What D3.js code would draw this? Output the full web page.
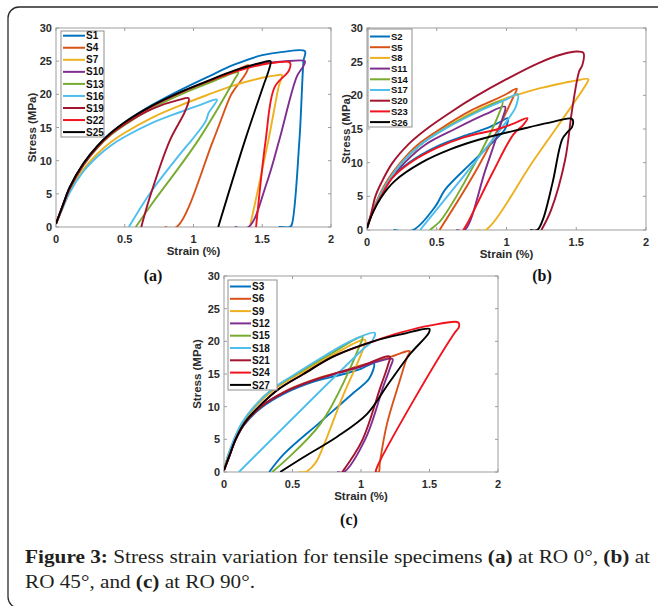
<!DOCTYPE html>
<html>
<head>
<meta charset="utf-8">
<script src="https://cdn.jsdelivr.net/npm/d3@7"></script>
<style>
  body { margin: 0; background: #fff; }
  svg { display: block; }
  .tick-label { font-family: "Liberation Sans", Arial, sans-serif; font-weight: bold; font-size: 11px; fill: #2b2b2b; }
  .axis-title { font-family: "Liberation Sans", Arial, sans-serif; font-weight: bold; font-size: 11.5px; fill: #2b2b2b; }
  .legend-label { font-family: "Liberation Sans", Arial, sans-serif; font-weight: bold; fill: #111; }
  .panel-tag { font-family: "Liberation Serif", "Times New Roman", serif; font-weight: bold; font-size: 16px; fill: #111; }
  .caption { font-family: "Liberation Serif", "Times New Roman", serif; font-size: 18.5px; fill: #231f20; }
</style>
</head>
<body>
<svg id="figure" width="658" height="606"></svg>
<script>
// ticks shared by all three panels
const strainTicks = [0, 0.5, 1, 1.5, 2];
const stressTicks = [0, 5, 10, 15, 20, 25, 30];

// (a) RO 0 deg  -- each curve: loading branch then unloading branch, [strain %, stress MPa]
const namesA = ["S1", "S4", "S7", "S10", "S13", "S16", "S19", "S22", "S25"];
const curvesA = [
    [[0,0.5],[0.05,3.3],[0.1,6],[0.2,9.6],[0.3,12.2],[0.4,14.2],[0.5,15.8],[0.7,18.4],[0.9,20.6],[1.1,22.6],[1.3,24.5],[1.5,25.9],[1.65,26.4],[1.81,26.5],
     [1.80,25],[1.77,13],[1.714,0.3],[1.70,0],[1.62,0]],
    [[0,0.5],[0.05,3.2],[0.1,5.9],[0.2,9.5],[0.3,12.1],[0.4,14.1],[0.5,15.7],[0.7,18.2],[0.9,20.2],[1.1,21.9],[1.3,23.5],[1.40,24.4],
     [1.385,23.3],[1.30,20.8],[1.27,19.8],[1.144,13.1],[0.877,0],[0.79,0]],
    [[0,0.5],[0.05,3.0],[0.1,5.4],[0.2,8.7],[0.3,11.0],[0.4,12.8],[0.5,14.2],[0.7,16.5],[0.9,18.3],[1.1,19.9],[1.3,21.4],[1.5,22.5],[1.6,22.85],[1.643,22.9],
     [1.62,21.2],[1.545,13.1],[1.41,0]],
    [[0,0.5],[0.05,3.2],[0.1,5.9],[0.2,9.5],[0.3,12.1],[0.4,14.1],[0.5,15.7],[0.7,18.2],[0.9,20.2],[1.1,21.9],[1.3,23.5],[1.5,24.6],[1.65,24.95],[1.81,25.0],
     [1.80,24.3],[1.752,22.7],[1.624,13.1],[1.532,6.6],[1.40,0],[1.30,0]],
    [[0,0.5],[0.05,3.1],[0.1,5.7],[0.2,9.3],[0.3,11.9],[0.4,13.9],[0.5,15.4],[0.7,17.9],[0.9,19.9],[1.1,21.6],[1.325,23.3],
     [1.30,22.3],[1.035,13.1],[0.684,3.1],[0.58,0]],
    [[0,0.5],[0.05,2.9],[0.1,5.2],[0.2,8.4],[0.3,10.6],[0.4,12.3],[0.5,13.6],[0.7,15.7],[0.9,17.3],[1.05,18.4],[1.17,19.2],
     [1.11,17.2],[1.09,16.0],[0.987,13.1],[0.926,11.6],[0.684,5.1],[0.53,0]],
    [[0,0.5],[0.05,3.2],[0.1,5.8],[0.2,9.4],[0.3,12.0],[0.4,14.0],[0.5,15.5],[0.7,17.8],[0.9,19.2],[0.965,19.4],
     [0.94,17.5],[0.829,13.1],[0.684,4.6],[0.62,0]],
    [[0,0.5],[0.05,3.2],[0.1,5.9],[0.2,9.5],[0.3,12.1],[0.4,14.1],[0.5,15.7],[0.7,18.2],[0.9,20.2],[1.1,21.9],[1.3,23.4],[1.5,24.5],[1.6,24.8],[1.70,24.8],
     [1.695,23.6],[1.59,21.1],[1.525,13.1],[1.455,0]],
    [[0,0.5],[0.05,3.3],[0.1,6],[0.2,9.6],[0.3,12.2],[0.4,14.2],[0.5,15.8],[0.7,18.3],[0.9,20.3],[1.1,22.0],[1.3,23.6],[1.5,24.8],[1.56,25.0],
     [1.55,23.8],[1.51,21.4],[1.375,13.1],[1.18,0]]
];

// (b) RO 45 deg
const namesB = ["S2", "S5", "S8", "S11", "S14", "S17", "S20", "S23", "S26"];
const curvesB = [
    [[0,0.3],[0.04,2.7],[0.1,5],[0.18,7.8],[0.3,10],[0.5,12.4],[0.7,14.0],[0.87,15.2],[0.95,16.0],[1.01,16.6],
     [0.99,15],[0.967,14.4],[0.75,10],[0.56,6],[0.49,3.5],[0.33,0],[0.19,0]],
    [[0,0.3],[0.04,2.8],[0.084,5],[0.15,7.5],[0.24,10],[0.36,12.6],[0.525,15],[0.75,17.8],[0.9,19.2],[1.0,20.2],[1.074,21.0],
     [1.05,19.8],[0.8,9.5],[0.52,0]],
    [[0,0.3],[0.04,2.7],[0.09,5],[0.16,7.5],[0.25,10],[0.38,12.6],[0.55,15],[0.8,17.9],[1.0,19.6],[1.11,20.3],[1.25,21.1],[1.4,21.8],[1.5,22.2],[1.587,22.4],
     [1.57,21.6],[1.2,10.5],[0.85,0],[0.79,0]],
    [[0,0.3],[0.04,2.6],[0.095,5],[0.17,7.5],[0.27,10],[0.42,12.7],[0.63,15],[0.85,17.2],[0.99,18.3],
     [0.97,16.5],[0.85,9],[0.70,0],[0.64,0]],
    [[0,0.3],[0.04,2.7],[0.09,5],[0.16,7.5],[0.25,10],[0.38,12.6],[0.55,15],[0.8,17.7],[0.97,19.1],
     [0.94,17],[0.75,9],[0.55,2],[0.52,1.2],[0.45,0]],
    [[0,0.3],[0.04,2.7],[0.09,5],[0.16,7.5],[0.25,10],[0.38,12.6],[0.55,14.9],[0.8,17.6],[1.0,19.4],[1.08,20.2],
     [1.07,18.5],[1.03,17],[0.38,0]],
    [[0,0.3],[0.03,2.5],[0.06,5],[0.1,6.9],[0.18,9.9],[0.3,12.8],[0.42,14.9],[0.6,17.5],[0.776,19.8],[1.0,22.4],[1.23,24.8],[1.4,26.1],[1.5,26.5],[1.551,26.3],
     [1.544,24.5],[1.52,23.5],[1.47,17.8],[1.42,10.4],[1.32,3],[1.25,0]],
    [[0,0.3],[0.04,2.6],[0.1,5],[0.18,7.7],[0.31,10],[0.5,12.2],[0.7,13.8],[0.94,15],[1.05,15.8],[1.15,16.6],
     [1.12,15.6],[1.05,14.2],[0.9,8.5],[0.72,1],[0.69,0]],
    [[0,0.3],[0.04,2.5],[0.1,4.8],[0.2,7.3],[0.39,10],[0.6,12],[0.8,13.4],[1.11,15],[1.3,15.9],[1.47,16.5],
     [1.47,15.3],[1.44,14.6],[1.40,13.5],[1.33,7],[1.26,1.5],[1.22,0],[1.17,0]]
];

// (c) RO 90 deg
const namesC = ["S3", "S6", "S9", "S12", "S15", "S18", "S21", "S24", "S27"];
const curvesC = [
    [[0,0.3],[0.04,2.5],[0.085,5],[0.15,7.3],[0.27,9.8],[0.45,12.1],[0.65,13.8],[0.875,15],[1.0,15.8],[1.094,16.6],
     [1.06,14.3],[0.95,12.2],[0.70,7.6],[0.44,2.8],[0.33,0]],
    [[0,0.3],[0.04,2.5],[0.085,5],[0.15,7.4],[0.27,10],[0.45,12.4],[0.65,14.1],[0.83,15.2],[1.0,16.3],[1.2,17.5],[1.356,18.5],
     [1.337,17.6],[1.276,13.5],[1.19,7.4],[1.137,1.3],[1.13,0],[1.106,0]],
    [[0,0.3],[0.03,2.5],[0.08,5],[0.14,7.5],[0.23,10],[0.37,12.7],[0.55,15],[0.8,18],[1.03,20.2],
     [1.01,18.5],[0.875,12],[0.68,1.8],[0.644,0.8],[0.595,0],[0.547,0]],
    [[0,0.3],[0.04,2.5],[0.085,5],[0.15,7.4],[0.27,10],[0.45,12.3],[0.65,14.0],[0.83,15.1],[1.0,16.1],[1.23,17.3],
     [1.215,16.1],[1.166,13.3],[1.033,5.1],[0.875,0],[0.826,0]],
    [[0,0.3],[0.03,2.5],[0.075,5],[0.135,7.5],[0.22,10],[0.36,12.8],[0.53,15],[0.78,18.1],[1.01,20.7],
     [0.99,19.3],[0.705,7.4],[0.352,0]],
    [[0,0.3],[0.03,2.5],[0.073,5],[0.13,7.5],[0.22,10],[0.36,12.8],[0.52,15],[0.72,17.6],[0.92,20],[1.10,21.3],
     [1.08,20],[1.02,18.9],[0.109,0]],
    [[0,0.3],[0.04,2.5],[0.085,5],[0.15,7.4],[0.27,10],[0.45,12.3],[0.65,14.0],[0.83,15.2],[1.0,16.2],[1.21,17.7],
     [1.196,16.3],[1.142,13],[1.008,4.8],[0.863,0]],
    [[0,0.3],[0.04,2.5],[0.085,5],[0.15,7.5],[0.255,10],[0.4,12.7],[0.58,15],[0.8,17.7],[1.09,20],[1.3,21.4],[1.5,22.4],[1.71,22.9],
     [1.715,22.2],[1.68,21.2],[1.385,11],[1.118,0.8],[1.106,0]],
    [[0,0.3],[0.04,2.5],[0.085,5],[0.15,7.5],[0.255,10],[0.4,12.7],[0.58,15],[0.8,17.7],[1.09,20],[1.3,21.1],[1.5,21.9],
     [1.495,21.3],[1.36,18.1],[1.2,13.5],[1.045,8.9],[0.826,5.4],[0.583,2.3],[0.41,0]]
];

// MATLAB line colour order, then red and black for the last two specimens
const palette = ["#0072BD", "#D95319", "#EDB120", "#7E2F8E", "#77AC30", "#4DBEEE", "#A2142F", "#F0141E", "#000000"];

const svg = d3.select("#figure");

// figure frame (rounded, runs off the right edge)
svg.append("rect")
    .attr("x", 8).attr("y", 7)
    .attr("width", 700).attr("height", 601)
    .attr("rx", 11)
    .attr("fill", "none")
    .attr("stroke", "#2a2a2a")
    .attr("stroke-width", 1.3);

const panels = [
    { names: namesA, curves: curvesA, id: "a", left: 56, top: 28, right: 331, bottom: 227,
      legend: { x: 61, y: 31, w: 43, h: 106, first: 4.7, row: 12.05, len: 22, font: 10 },
      yLabelX: 32, tag: "(a)", tagX: 153, tagY: 281 },
    { names: namesB, curves: curvesB, id: "b", left: 367, top: 28, right: 646, bottom: 230,
      legend: { x: 368, y: 29, w: 44, h: 98, first: 7.5, row: 10.7, len: 20, font: 9.5 },
      yLabelX: 346, tag: "(b)", tagX: 542, tagY: 281 },
    { names: namesC, curves: curvesC, id: "c", left: 224, top: 276, right: 498, bottom: 472,
      legend: { x: 228, y: 280, w: 49, h: 110, first: 6.5, row: 12.3, len: 21, font: 10 },
      yLabelX: 197, tag: "(c)", tagX: 349, tagY: 525 }
];

panels.forEach(p => drawPanel(p));

function drawPanel(p) {
    let x = d3.scaleLinear().domain([0, 2]).range([p.left, p.right]);
    let y = d3.scaleLinear().domain([0, 30]).range([p.bottom, p.top]);
    let g = svg.append("g").attr("class", "panel-" + p.id);

    g.append("clipPath").attr("id", "clip-" + p.id)
        .append("rect")
        .attr("x", p.left).attr("y", p.top)
        .attr("width", p.right - p.left).attr("height", p.bottom - p.top);

    // axes box with inward ticks on all four sides
    let axisColor = "#9d9d9d";
    g.append("rect")
        .attr("x", p.left).attr("y", p.top)
        .attr("width", p.right - p.left).attr("height", p.bottom - p.top)
        .attr("fill", "#fff").attr("stroke", axisColor).attr("stroke-width", 1);

    let tk = 3;
    strainTicks.forEach(t => {
        g.append("line").attr("x1", x(t)).attr("x2", x(t)).attr("y1", p.bottom).attr("y2", p.bottom - tk).attr("stroke", axisColor);
        g.append("line").attr("x1", x(t)).attr("x2", x(t)).attr("y1", p.top).attr("y2", p.top + tk).attr("stroke", axisColor);
        g.append("text").attr("class", "tick-label")
            .attr("x", x(t)).attr("y", p.bottom + 15.5)
            .attr("text-anchor", "middle")
            .text(t);
    });
    stressTicks.forEach(t => {
        g.append("line").attr("x1", p.left).attr("x2", p.left + tk).attr("y1", y(t)).attr("y2", y(t)).attr("stroke", axisColor);
        g.append("line").attr("x1", p.right).attr("x2", p.right - tk).attr("y1", y(t)).attr("y2", y(t)).attr("stroke", axisColor);
        g.append("text").attr("class", "tick-label")
            .attr("x", p.left - 4).attr("y", y(t) + 4)
            .attr("text-anchor", "end")
            .text(t);
    });

    g.append("text").attr("class", "axis-title")
        .attr("x", (p.left + p.right) / 2).attr("y", p.bottom + 28)
        .attr("text-anchor", "middle")
        .text("Strain (%)");
    g.append("text").attr("class", "axis-title")
        .attr("transform", "translate(" + (p.yLabelX + 4) + "," + ((p.top + p.bottom) / 2) + ") rotate(-90)")
        .attr("text-anchor", "middle")
        .text("Stress (MPa)");

    // curves
    let line = d3.line()
        .x(d => x(d[0]))
        .y(d => y(d[1]))
        .curve(d3.curveCatmullRom.alpha(0.5));

    g.append("g").attr("clip-path", "url(#clip-" + p.id + ")")
        .selectAll("path")
        .data(p.curves)
        .enter().append("path")
        .attr("d", d => line(d))
        .attr("fill", "none")
        .attr("stroke", (d, i) => palette[i])
        .attr("stroke-width", 1.9)
        .attr("stroke-linejoin", "round");

    // legend
    let L = p.legend;
    let lg = g.append("g");
    lg.append("rect")
        .attr("x", L.x).attr("y", L.y).attr("width", L.w).attr("height", L.h)
        .attr("fill", "#fff").attr("stroke", "#8f8f8f").attr("stroke-width", 1);
    let rows = lg.selectAll(".legend-row").data(p.names).enter().append("g")
        .attr("class", "legend-row")
        .attr("transform", (d, i) => "translate(" + (L.x + 2) + "," + (L.y + L.first + i * L.row) + ")");
    rows.append("line")
        .attr("x1", 0).attr("x2", L.len)
        .attr("stroke", (d, i) => palette[i]).attr("stroke-width", 2);
    rows.append("text").attr("class", "legend-label")
        .attr("x", L.len + 1).attr("y", L.font * 0.36)
        .style("font-size", L.font + "px")
        .text(d => d);

    svg.append("text").attr("class", "panel-tag")
        .attr("x", p.tagX).attr("y", p.tagY)
        .attr("text-anchor", "middle")
        .text(p.tag);
}

// caption
let cap1 = svg.append("text").attr("class", "caption").attr("x", 25).attr("y", 563)
    .attr("textLength", 625).attr("lengthAdjust", "spacingAndGlyphs");
cap1.append("tspan").attr("font-weight", "bold").text("Figure 3:");
cap1.append("tspan").text(" Stress strain variation for tensile specimens ");
cap1.append("tspan").attr("font-weight", "bold").text("(a)");
cap1.append("tspan").text(" at RO 0°, ");
cap1.append("tspan").attr("font-weight", "bold").text("(b)");
cap1.append("tspan").text(" at");

let cap2 = svg.append("text").attr("class", "caption").attr("x", 25).attr("y", 588)
    .attr("textLength", 230).attr("lengthAdjust", "spacingAndGlyphs");
cap2.append("tspan").text("RO 45°, and ");
cap2.append("tspan").attr("font-weight", "bold").text("(c)");
cap2.append("tspan").text(" at RO 90°.");
</script>
</body>
</html>
